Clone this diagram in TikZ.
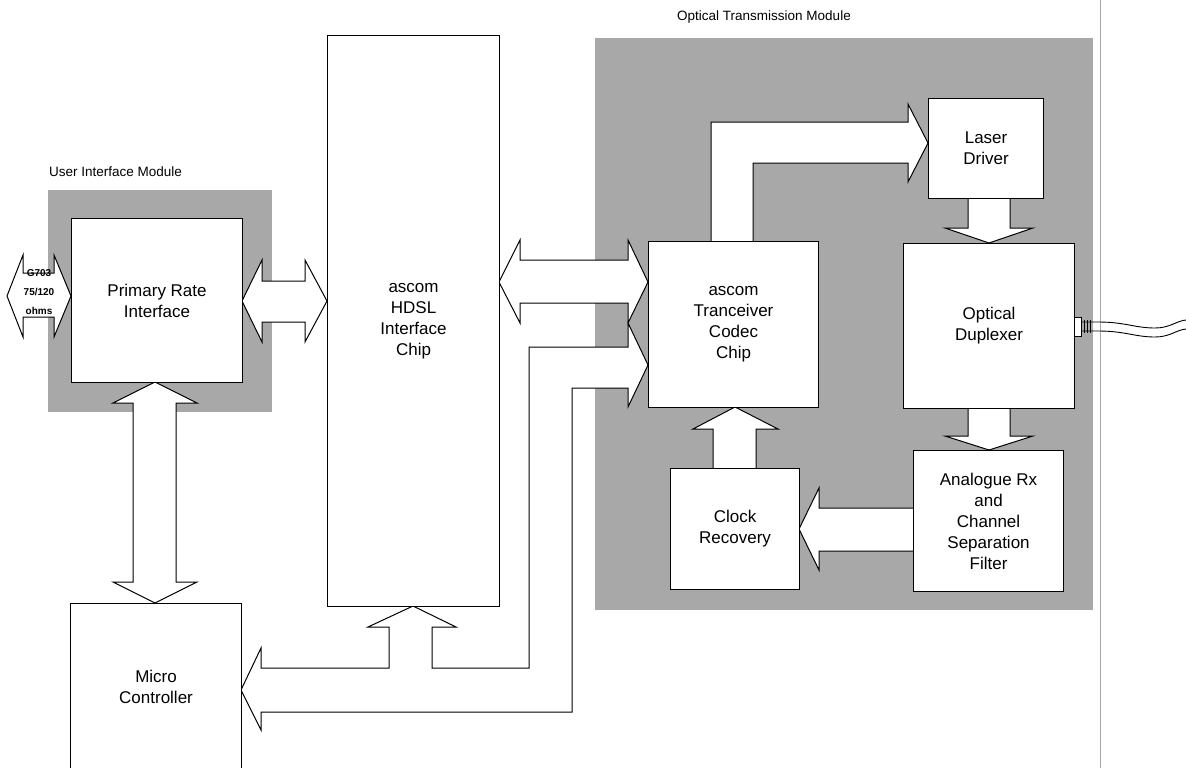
\documentclass[tikz,border=0pt]{standalone}
\usepackage{fontspec}
\setmainfont{Liberation Sans}
\pgfdeclarelayer{bg}
\pgfsetlayers{bg,main}
\definecolor{shade}{gray}{0.66}
\tikzset{
  box/.style={draw=black, line width=1.1pt, fill=white, align=center, inner sep=0pt,
              anchor=north west, font=\fontsize{17}{21}\selectfont},
  barrow/.style={draw=black, line width=1pt, fill=white, line join=miter},
  module/.style={fill=shade},
  modlabel/.style={inner sep=0pt, font=\fontsize{13.5}{16}\selectfont},
  fibre/.style={draw=black, line width=0.9pt}
}
\begin{document}
\begin{tikzpicture}[x=1pt,y=-1pt]
\useasboundingbox (0,0) rectangle (1186,768);
% ---------------- boxes ----------------
\node[box, minimum width=171pt, minimum height=164pt] (pri) at (71,218) {Primary Rate\\Interface};
\node[box, minimum width=171pt, minimum height=166pt] (mc) at (70,603) {Micro\\Controller};
\node[box, minimum width=172pt, minimum height=571pt] (hdsl) at (327,35) {ascom\\HDSL\\Interface\\Chip};
\node[box, minimum width=170pt, minimum height=166pt] (codec) at (648,241) {ascom\\Tranceiver\\Codec\\Chip};
\node[box, minimum width=115pt, minimum height=100pt] (laser) at (928,98) {Laser\\Driver};
\node[box, minimum width=171pt, minimum height=165pt] (dup) at (903,243) {Optical\\Duplexer};
\node[box, minimum width=150pt, minimum height=141pt] (ana) at (913,450) {Analogue Rx\\and\\Channel\\Separation\\Filter};
\node[box, minimum width=129pt, minimum height=121pt] (clk) at (670,468) {Clock\\Recovery};
% ---------------- labels ----------------
\node[modlabel] (otmlabel) at (764,17) {Optical Transmission Module};
\node[modlabel, anchor=west] (uimlabel) at (49,172) {User Interface Module};
\begin{pgfonlayer}{bg}
% module backgrounds
\fill[module] (48,190) rectangle (272,412);
\fill[module] (595,38) rectangle (1093,610);
% page edge line
\draw[black!35, line width=0.8pt] (1100,0) -- (1100,768);
% G703 line arrow
\filldraw[barrow] (7,296) -- (23,255) -- (23,273) -- (54,273) -- (54,255) -- (71,296)
   -- (54,337) -- (54,317) -- (23,317) -- (23,337) -- cycle;
% PRI <-> HDSL
\filldraw[barrow] (242,301) -- (262,260) -- (262,281) -- (305,281) -- (305,260) -- (327,301)
   -- (305,342) -- (305,322) -- (262,322) -- (262,342) -- cycle;
% PRI <-> Micro controller
\filldraw[barrow] (155,382) -- (197,403) -- (176,403) -- (176,582) -- (197,582) -- (155,603)
   -- (113,582) -- (133,582) -- (133,403) -- (113,403) -- cycle;
% HDSL <-> codec
\filldraw[barrow] (499,282) -- (520,240) -- (520,260) -- (628,260) -- (628,240) -- (648,282)
   -- (628,323) -- (628,303) -- (520,303) -- (520,323) -- cycle;
% bus from codec and HDSL to micro controller
\filldraw[barrow] (261,668) -- (389,668) -- (389,627) -- (368,627) -- (413,606) -- (456,627)
   -- (432,627) -- (432,668) -- (529,668) -- (529,347) -- (628,347) -- (628,323)
   -- (648,365) -- (628,407) -- (628,388) -- (572,388) -- (572,712) -- (261,712)
   -- (261,730) -- (241,690) -- (261,648) -- cycle;
% codec -> laser driver
\filldraw[barrow] (711,241) -- (711,122) -- (908,122) -- (908,104) -- (928,143)
   -- (908,182) -- (908,163) -- (753,163) -- (753,241);
% laser driver -> duplexer
\filldraw[barrow] (968,198) -- (968,228) -- (945,228) -- (989,243) -- (1033,228)
   -- (1010,228) -- (1010,198);
% duplexer -> analogue rx
\filldraw[barrow] (968,408) -- (968,436) -- (945,436) -- (989,450) -- (1033,436)
   -- (1010,436) -- (1010,408);
% analogue rx -> clock recovery
\filldraw[barrow] (913,508) -- (819,508) -- (819,488) -- (799,529) -- (819,570)
   -- (819,551) -- (913,551);
% clock recovery -> codec
\filldraw[barrow] (713,468) -- (713,429) -- (693,429) -- (735,407) -- (778,429)
   -- (756,429) -- (756,468);
\end{pgfonlayer}
% G703 text
\node[inner sep=0pt, align=center, font=\bfseries\fontsize{10}{19}\selectfont] (g703) at (39,292) {G703\\75/120\\ohms};
% fibre connector and fibre
\draw[fibre] (1081,322) -- (1098,322) .. controls (1125,322) and (1135,328) .. (1155,328)
   .. controls (1170,328) and (1176,321) .. (1186,320);
\draw[fibre] (1081,331) -- (1098,331) .. controls (1125,331) and (1135,337) .. (1155,337)
   .. controls (1170,337) and (1176,330) .. (1186,329);
\foreach \xx in {1084,1087,1090} \draw[line width=0.6pt] (\xx,320) -- (\xx,333);
\filldraw[draw=black, fill=white, line width=1pt] (1074,317) rectangle (1081,336);
\end{tikzpicture}
\end{document}
